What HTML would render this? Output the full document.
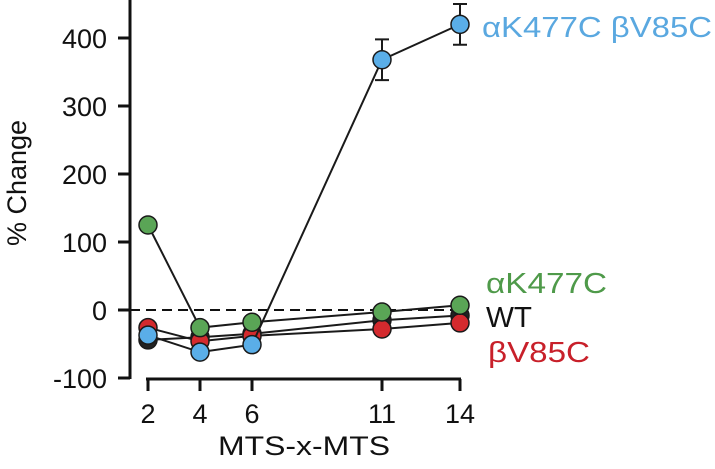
<!DOCTYPE html><html><head><meta charset="utf-8"><style>body{margin:0;background:#fff}svg text{font-family:"Liberation Sans",sans-serif}</style></head><body>
<svg id="c" width="715" height="464"></svg>
<script>
const xs=[2,4,6,11,14];
const xTicks=[2,4,6,11,14];
const yTicks=[-100,0,100,200,300,400];
const wt=[-44,-40,-35,-15,-8];
const red=[-26,-46,-38,-28,-19];
const green=[125,-26,-18,-3,7];
const blue=[-37,-62,-51,368,420];
const blueErr=[0,0,0,30,30];
const X=v=>148+(v-2)*26, Y=v=>310-v*0.68;
const s=document.getElementById('c'),NS='http://www.w3.org/2000/svg';
function mk(t,a,txt){const e=document.createElementNS(NS,t);for(const k in a)e.setAttribute(k,a[k]);if(txt!=null)e.textContent=txt;s.appendChild(e);return e;}
let e=mk('line',{x1:130,y1:0,x2:130,y2:379,stroke:'#111','stroke-width':3});

e=mk('line',{x1:146,y1:379,x2:461,y2:379,stroke:'#111','stroke-width':3});

yTicks.forEach(v=>{mk('line',{x1:118,y1:Y(v),x2:130,y2:Y(v),stroke:'#111','stroke-width':3});
e=mk('text',{x:107,y:Y(v)+10,'text-anchor':'end','font-size':27,fill:'#111'},v);
});
xTicks.forEach(v=>{mk('line',{x1:X(v),y1:379,x2:X(v),y2:391,stroke:'#111','stroke-width':3});
e=mk('text',{x:X(v),y:423,'text-anchor':'middle','font-size':27,fill:'#111'},v);
});
e=mk('text',{x:218,y:455,'font-size':27,fill:'#111',textLength:172,lengthAdjust:'spacingAndGlyphs'},'MTS-x-MTS');

e=mk('text',{x:0,y:0,transform:'translate(26,183) rotate(-90)','text-anchor':'middle','font-size':27,fill:'#111'},'% Change');

e=mk('line',{x1:130,y1:Y(0),x2:460,y2:Y(0),stroke:'#111','stroke-width':2,'stroke-dasharray':'10,6'});

function series(d,col,name){
 e=mk('polyline',{points:d.map((v,i)=>X(xs[i])+','+Y(v)).join(' '),fill:'none',stroke:'#1a1a1a','stroke-width':2});
 
 d.forEach((v,i)=>{e=mk('circle',{cx:X(xs[i]),cy:Y(v),r:9,fill:col,stroke:'#1a1a1a','stroke-width':1.5});
 });
}
series(wt,'#222','wt');series(red,'#d42a2e','bv85c');series(green,'#5aa556','ak477c');
blue.forEach((v,i)=>{if(blueErr[i]){const x=X(xs[i]);
 e=mk('path',{d:`M${x},${Y(v-blueErr[i])}V${Y(v+blueErr[i])}M${x-7},${Y(v-blueErr[i])}H${x+7}M${x-7},${Y(v+blueErr[i])}H${x+7}`,stroke:'#1a1a1a','stroke-width':2,fill:'none'});
 }});
series(blue,'#5aaee8','double');
[['αK477C βV85C','#5aa8e0',482,37,230,'label-double'],['αK477C','#4f9a4a',486,293,121,'label-ak477c'],['WT','#111',486,327,46,'label-wt'],['βV85C','#c8202a',488,362,102,'label-bv85c']].forEach(l=>{
 e=mk('text',{x:l[2],y:l[3],'font-size':29,fill:l[1],textLength:l[4],lengthAdjust:'spacingAndGlyphs'},l[0]);
 });
</script></body></html>
